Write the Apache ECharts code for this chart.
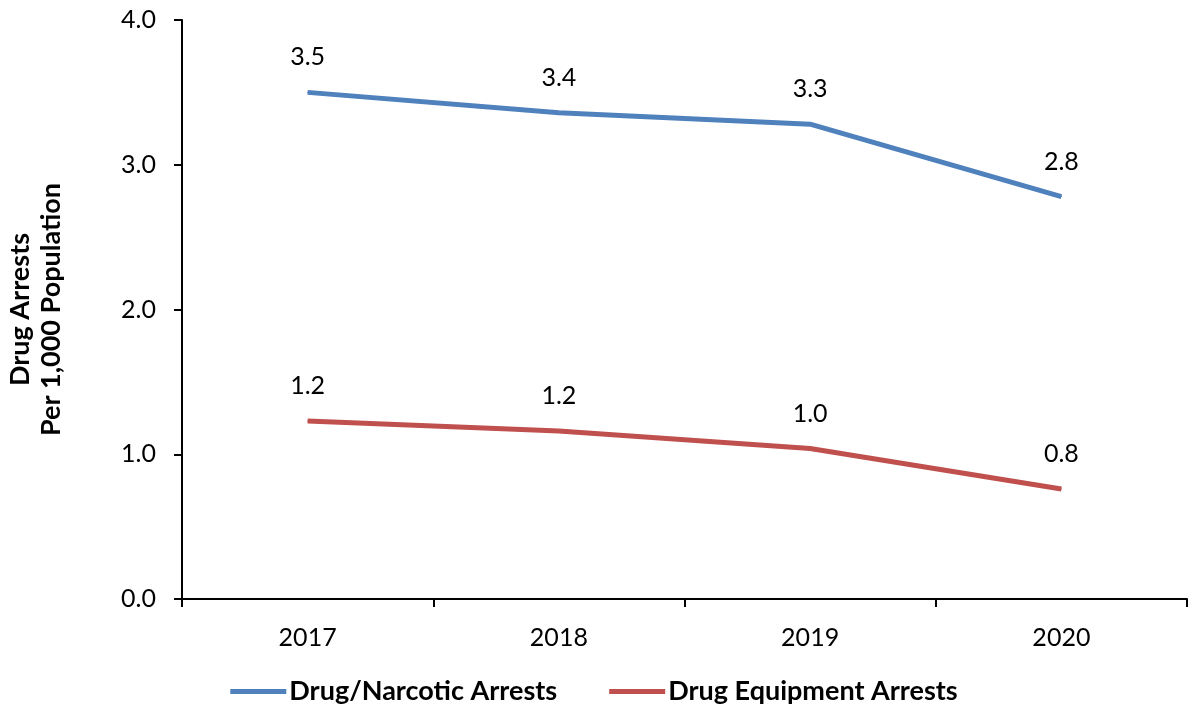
<!DOCTYPE html>
<html><head><meta charset="utf-8">
<script src="https://cdn.jsdelivr.net/npm/echarts@6/dist/echarts.min.js"></script>
<style>html,body{margin:0;padding:0;background:#fff}#c{width:1188px;height:713px}</style>
</head><body><div id="c"></div>
<script>
const categories = ['2017', '2018', '2019', '2020'];
const narcotic = [3.50, 3.36, 3.28, 2.78];
const equipment = [1.23, 1.16, 1.04, 0.76];
const seriesNames = ['Drug/Narcotic Arrests', 'Drug Equipment Arrests'];
const yTitle = 'Drug Arrests\nPer 1,000 Population';

const FONT = 'Lato';
const chart = echarts.init(document.getElementById('c'), null, {renderer: 'canvas'});
function mk(name, data, color) {
  return {
    name: name, type: 'line', data: data,
    symbol: 'circle', symbolSize: 1, showSymbol: true,
    itemStyle: {color: color},
    lineStyle: {color: color, width: 5},
    label: {show: true, position: 'top', distance: 22, color: '#000', fontFamily: FONT, fontSize: 25,
      formatter: p => p.value.toFixed(1)},
    emphasis: {disabled: true}, animation: false
  };
}
chart.setOption({
  animation: false,
  textStyle: {fontFamily: FONT},
  grid: {left: 182, right: 1, top: 20, bottom: 114, containLabel: false, outerBoundsMode: 'none'},
  legend: {
    bottom: 3, left: 'center', itemWidth: 56, itemHeight: 5, itemGap: 52,
    icon: 'rect',
    textStyle: {fontFamily: FONT, fontSize: 27, fontWeight: 'bold', color: '#000', padding: [0,0,0,-2]},
    data: seriesNames
  },
  xAxis: {
    type: 'category', data: categories, boundaryGap: true,
    axisLine: {lineStyle: {color: '#000', width: 2}},
    axisTick: {show: true, length: 8, lineStyle: {color: '#000', width: 2}},
    axisLabel: {color: '#000', fontFamily: FONT, fontSize: 25, margin: 26}
  },
  yAxis: {
    type: 'value', min: 0, max: 4, interval: 1,
    name: yTitle, nameLocation: 'middle', nameGap: 115, nameRotate: 90,
    nameTextStyle: {fontFamily: FONT, fontSize: 27, fontWeight: 'bold', color: '#000', lineHeight: 31},
    axisLine: {show: true, lineStyle: {color: '#000', width: 2}},
    axisTick: {show: true, length: 8, lineStyle: {color: '#000', width: 2}},
    splitLine: {show: false},
    axisLabel: {color: '#000', fontFamily: FONT, fontSize: 25, margin: 26, formatter: v => v.toFixed(1)}
  },
  series: [mk(seriesNames[0], narcotic, '#4F81BD'), mk(seriesNames[1], equipment, '#C0504D')]
});
</script></body></html>
